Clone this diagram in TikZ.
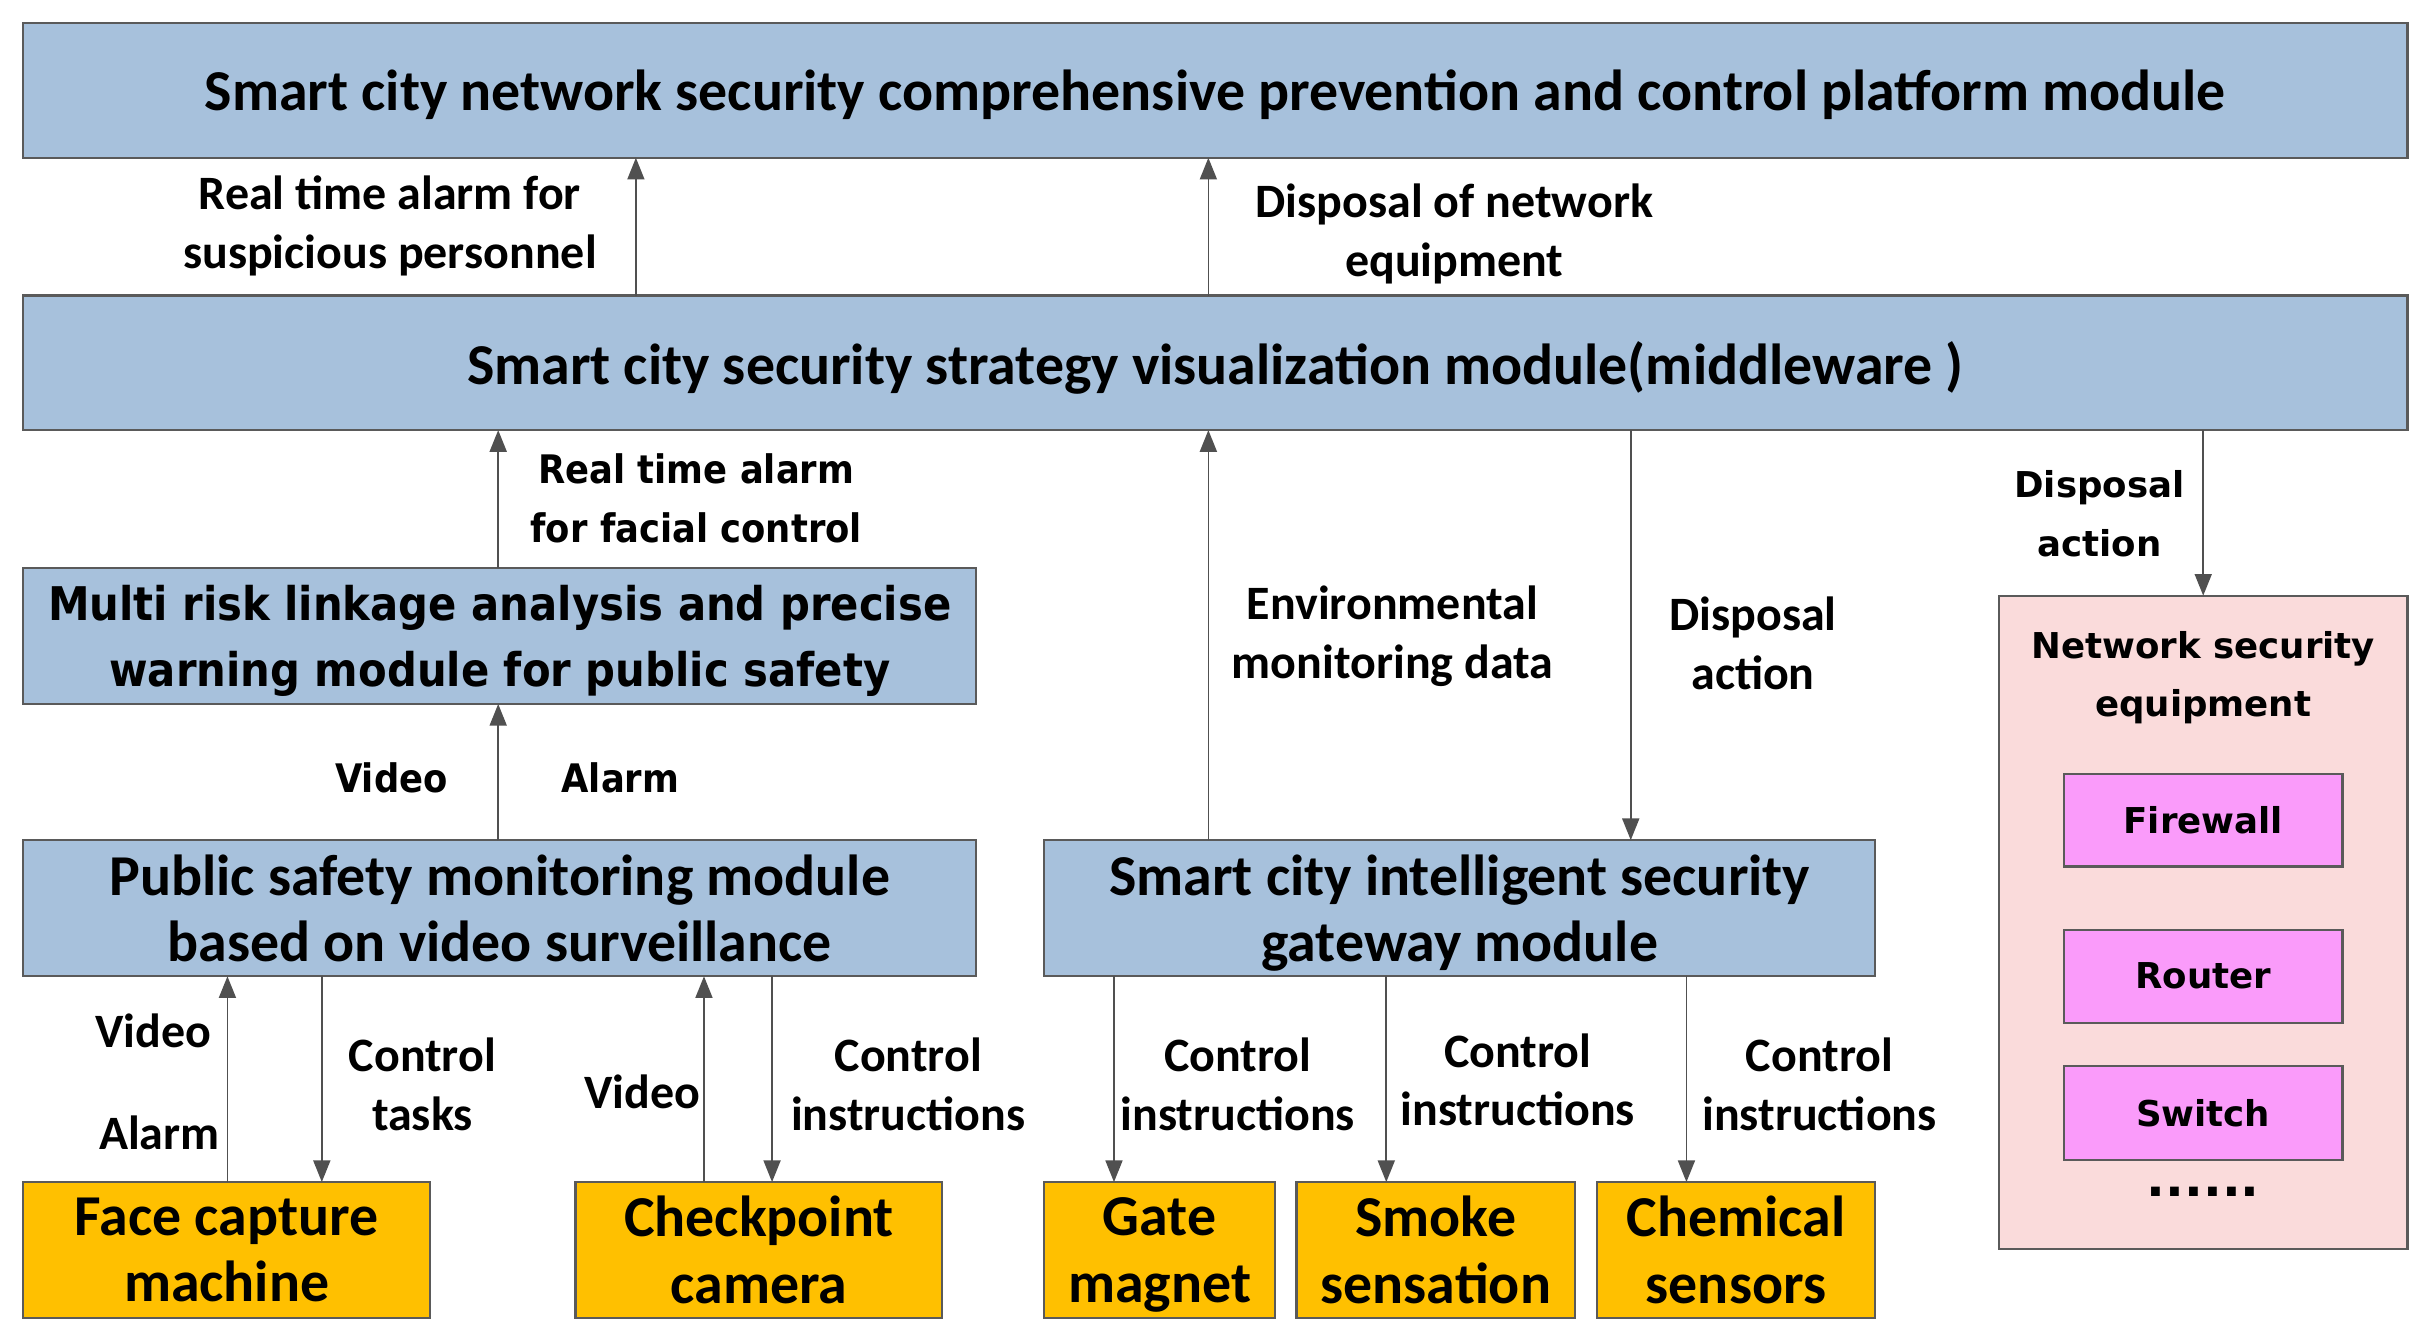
\documentclass[tikz,border=0pt]{standalone}
\usepackage{fontspec}
\setmainfont{Carlito}
\newfontfamily\tahfam[FakeStretch=0.9]{DejaVu Sans}
\newfontfamily\verfam{DejaVu Sans}
\usetikzlibrary{arrows.meta}
\definecolor{blu}{RGB}{167,193,220}
\definecolor{bordc}{RGB}{90,90,90}
\definecolor{org}{RGB}{255,192,0}
\definecolor{pnk}{RGB}{250,219,219}
\definecolor{magc}{RGB}{250,155,250}
\definecolor{arrc}{RGB}{80,80,80}
\newcommand\fntBig{\bfseries\fontsize{18.7}{21.5}\selectfont}
\newcommand\fntLbl{\bfseries\fontsize{15.5}{19}\selectfont}
\newcommand\fntTah{\tahfam\bfseries\fontsize{15}{21.5}\selectfont}
\newcommand\fntTahS{\tahfam\bfseries\fontsize{12.7}{19}\selectfont}
\newcommand\fntVer{\verfam\bfseries\fontsize{11.5}{19}\selectfont}
\newcommand\fntDots{\verfam\bfseries\fontsize{16}{19}\selectfont}
\newcommand\nodepth[1]{\raisebox{0pt}[\height][0pt]{#1}}
\tikzset{
  blk/.style={draw=bordc, line width=0.7pt, fill=blu, inner sep=0pt, outer sep=0pt, align=center, font=\fntBig},
  dev/.style={blk, fill=org},
  netbox/.style={draw=bordc, line width=0.7pt, fill=pnk, inner sep=0pt, outer sep=0pt},
  magbox/.style={draw=bordc, line width=0.7pt, fill=magc, inner sep=0pt, outer sep=0pt, font=\fntVer},
  lbl/.style={align=center, inner sep=0pt, font=\fntLbl},
  tlbl/.style={align=center, inner sep=0pt, font=\fntTahS},
  vlbl/.style={align=center, inner sep=0pt, font=\fntVer},
  arr/.style={draw=arrc, line width=0.55pt, -{Triangle[length=7pt,width=5.5pt]}},
}
\begin{document}
\begin{tikzpicture}[x=0.5pt,y=-0.5pt]
\useasboundingbox (0,0) rectangle (1568,865);
% main boxes
\node[blk, minimum width=770.5pt, minimum height=43.5pt] (top) at (785.5,58.5) {\nodepth{Smart city network security comprehensive prevention and control platform module}};
\node[blk, minimum width=770.5pt, minimum height=43.5pt] (mid) at (785.5,234.5) {\nodepth{Smart city security strategy visualization module(middleware )}};
\node[blk, minimum width=308pt, minimum height=44pt, font=\fntTah] (multi) at (323,411) {Multi risk linkage analysis and precise\\\nodepth{warning module for public safety}};
\node[blk, minimum width=308pt, minimum height=44pt] (pub) at (323,587) {Public safety monitoring module\\based on video surveillance};
\node[blk, minimum width=268.5pt, minimum height=44pt] (gw) at (943.5,587) {Smart city intelligent security\\\nodepth{gateway module}};
% network security equipment
\node[netbox, minimum width=132pt, minimum height=211pt] (net) at (1424,596) {};
\node[vlbl] (nettitle) at (1424,438) {Network security\\equipment};
\node[magbox, minimum width=90pt, minimum height=30pt] (fw) at (1424,530) {Firewall};
\node[magbox, minimum width=90pt, minimum height=30pt] (rt) at (1424,631) {Router};
\node[magbox, minimum width=90pt, minimum height=30.5pt] (sw) at (1424,719.5) {Switch};
\node[align=center, inner sep=0pt, font=\fntDots] (dots) at (1424,770) {......};
% devices
\node[dev, minimum width=131.5pt, minimum height=44pt] (face) at (146.5,808) {Face capture\\machine};
\node[dev, minimum width=118.5pt, minimum height=44pt] (chk) at (490.5,808) {Checkpoint\\camera};
\node[dev, minimum width=74.5pt, minimum height=44pt] (gate) at (749.5,808) {Gate\\\nodepth{magnet}};
\node[dev, minimum width=90pt, minimum height=44pt] (smoke) at (928,808) {Smoke\\sensation};
\node[dev, minimum width=90pt, minimum height=44pt] (chem) at (1122,808) {Chemical\\sensors};
% x positions of connectors
\coordinate (xa) at (411,0);
\coordinate (xb) at (781,0);
\coordinate (xc) at (322,0);
\coordinate (xd) at (1054,0);
\coordinate (xe) at (1424,0);
\coordinate (xf1) at (147,0);
\coordinate (xf2) at (208,0);
\coordinate (xc1) at (455,0);
\coordinate (xc2) at (499,0);
\coordinate (xg) at (720,0);
\coordinate (xs) at (896,0);
\coordinate (xch) at (1090,0);
% connectors
\draw[arr] (mid.north -| xa) -- (top.south -| xa);
\draw[arr] (mid.north -| xb) -- (top.south -| xb);
\draw[arr] (multi.north -| xc) -- (mid.south -| xc);
\draw[arr] (pub.north -| xc) -- (multi.south -| xc);
\draw[arr] (gw.north -| xb) -- (mid.south -| xb);
\draw[arr] (mid.south -| xd) -- (gw.north -| xd);
\draw[arr] (mid.south -| xe) -- (net.north -| xe);
\draw[arr] (face.north -| xf1) -- (pub.south -| xf1);
\draw[arr] (pub.south -| xf2) -- (face.north -| xf2);
\draw[arr] (chk.north -| xc1) -- (pub.south -| xc1);
\draw[arr] (pub.south -| xc2) -- (chk.north -| xc2);
\draw[arr] (gw.south -| xg) -- (gate.north -| xg);
\draw[arr] (gw.south -| xs) -- (smoke.north -| xs);
\draw[arr] (gw.south -| xch) -- (chem.north -| xch);
% labels
\node[lbl] (l1) at (252,146) {Real time alarm for\\suspicious personnel};
\node[lbl] (l2) at (940,151) {Disposal of network\\equipment};
\node[tlbl] (l3) at (450,322) {Real time alarm\\for facial control};
\node[tlbl] (l4a) at (253,503) {Video};
\node[tlbl] (l4b) at (401,503) {Alarm};
\node[lbl] (l5) at (900,411) {Environmental\\monitoring data};
\node[lbl] (l6) at (1133,416) {Disposal\\action};
\node[vlbl] (l7) at (1357,332) {Disposal\\action};
\node[lbl] (lf1) at (99,666) {Video};
\node[lbl] (lf2) at (103,732) {Alarm};
\node[lbl] (lf3) at (273,701) {Control\\tasks};
\node[lbl] (lc1) at (415,706) {Video};
\node[lbl] (lc2) at (587,701) {Control\\instructions};
\node[lbl] (lg) at (800,701) {Control\\instructions};
\node[lbl] (ls) at (981,698) {Control\\instructions};
\node[lbl] (lch) at (1176,701) {Control\\instructions};
\end{tikzpicture}
\end{document}
